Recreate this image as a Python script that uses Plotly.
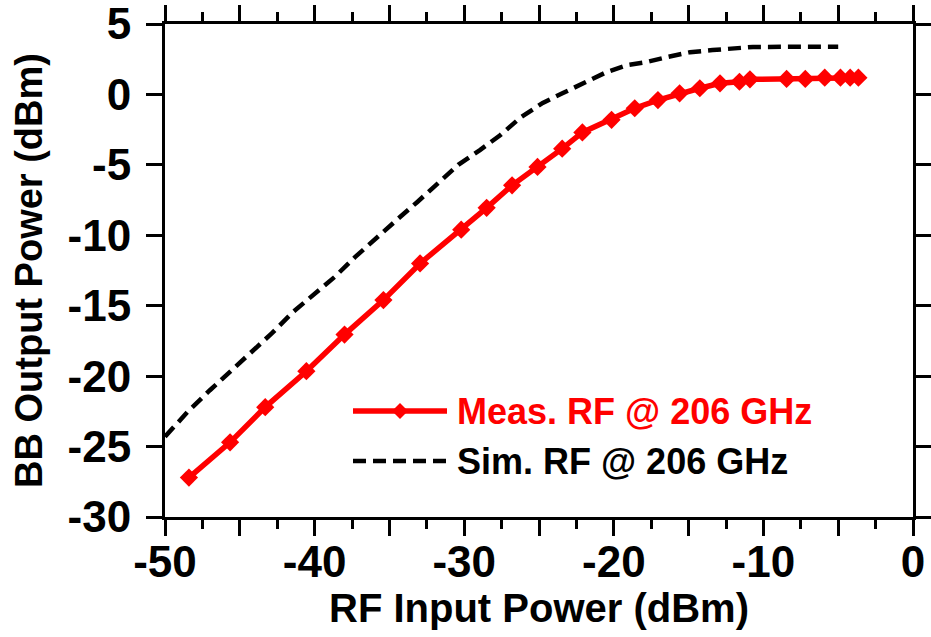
import plotly.graph_objects as go

# Measured: RF @ 206 GHz
meas_x = [-48.4, -45.65, -43.3, -40.55, -38.0, -35.4, -32.95, -30.2, -28.5, -26.8,
          -25.1, -23.45, -22.1, -20.15, -18.6, -17.05, -15.6, -14.25, -12.9, -11.6,
          -10.9, -8.45, -7.2, -5.9, -4.85, -4.2, -3.65]
meas_y = [-27.2, -24.7, -22.2, -19.65, -17.05, -14.6, -12.0, -9.6, -8.05, -6.45,
          -5.15, -3.85, -2.7, -1.8, -0.98, -0.4, 0.08, 0.44, 0.79, 0.9,
          1.07, 1.1, 1.1, 1.19, 1.19, 1.19, 1.19]

# Simulated: RF @ 206 GHz
sim_x = [-50, -48.5, -47, -45.5, -44.2, -42.85, -41.45, -40, -38.65, -37.3, -35.8,
         -34.5, -33.15, -31.75, -30.4, -28.95, -27.6, -26.25, -24.75, -23.4, -21.95,
         -20.45, -19.1, -17.8, -16.45, -14.9, -13.4, -12.0, -10.7, -8, -5]
sim_y = [-24.3, -22.55, -21.0, -19.55, -18.35, -16.95, -15.45, -14.15, -12.95, -11.55, -10.1,
         -8.9, -7.65, -6.3, -5.0, -3.95, -2.9, -1.65, -0.6, 0.1, 0.88,
         1.6, 2.08, 2.3, 2.65, 3.0, 3.15, 3.3, 3.37, 3.38, 3.38]

x_tickvals = [-50, -45, -40, -35, -30, -25, -20, -15, -10, -5, 0]
x_ticktext = ["-50", "", "-40", "", "-30", "", "-20", "", "-10", "", "0"]
y_tickvals = [5, 0, -5, -10, -15, -20, -25, -30]
y_ticktext = ["5", "0", "-5", "-10", "-15", "-20", "-25", "-30"]

legend_labels = ["Meas. RF @ 206 GHz", "Sim. RF @ 206 GHz"]
RED = "#FF0000"
FONT = "Liberation Sans, Arial, sans-serif"

fig = go.Figure()
fig.add_trace(go.Scatter(x=sim_x, y=sim_y, mode="lines", name=legend_labels[1],
                         line=dict(color="black", width=4.5, dash="13px,7px"),
                         showlegend=False))
fig.add_trace(go.Scatter(x=meas_x, y=meas_y, mode="lines+markers", name=legend_labels[0],
                         line=dict(color=RED, width=5.5),
                         marker=dict(symbol="diamond", size=14, color=RED),
                         showlegend=False))

axis_common = dict(showline=True, linecolor="black", linewidth=3, mirror="allticks",
                   ticks="outside", ticklen=16, tickwidth=3, tickcolor="black",
                   showgrid=False, zeroline=False, automargin=False,
                   ticklabeloverflow="allow",
                   tickfont=dict(family=FONT, size=44, color="black", weight="bold"))

fig.update_xaxes(range=[-50, 0], tickvals=x_tickvals, ticktext=x_ticktext,
                 ticklabelstandoff=-12,
                 minor=dict(dtick=2.5, ticklen=9, tickwidth=3, tickcolor="black", ticks="outside"),
                 title=dict(text="<b>RF Input Power (dBm)</b>",
                            font=dict(family=FONT, size=40, color="black"), standoff=2),
                 **axis_common)
fig.update_yaxes(range=[-30, 5], tickvals=y_tickvals, ticktext=y_ticktext,
                 ticklabelstandoff=6,
                 title=dict(text="<b>BB Output Power (dBm)</b>",
                            font=dict(family=FONT, size=38, color="black"), standoff=14),
                 **axis_common)

# Plot-area corners in reference pixels (page margin removed below)
L, R_, T, B = 165, 913, 24, 517
def px(x):
    return (x - L) / (R_ - L)
def py(y):
    return (B - y) / (B - T)

shapes = [
    dict(type="line", xref="paper", yref="paper", x0=px(353), x1=px(447),
         y0=py(411), y1=py(411), line=dict(color=RED, width=5.5)),
    dict(type="path", xref="paper", yref="paper",
         path=(f"M {px(392)},{py(411)} L {px(400)},{py(403)} "
               f"L {px(408)},{py(411)} L {px(400)},{py(419)} Z"),
         fillcolor=RED, line=dict(color=RED, width=0)),
    dict(type="line", xref="paper", yref="paper", x0=px(353), x1=px(447),
         y0=py(461), y1=py(461), line=dict(color="black", width=4.5, dash="13px,7px")),
]
annotations = [
    dict(xref="paper", yref="paper", x=px(455), y=py(411), xanchor="left", yanchor="middle",
         text="<b>" + legend_labels[0] + "</b>", showarrow=False,
         font=dict(family=FONT, size=36, color=RED)),
    dict(xref="paper", yref="paper", x=px(455), y=py(461), xanchor="left", yanchor="middle",
         text="<b>" + legend_labels[1] + "</b>", showarrow=False,
         font=dict(family=FONT, size=36, color="black")),
]

fig.update_layout(width=931, height=637, margin=dict(l=165, r=18, t=24, b=120),
                  plot_bgcolor="white", paper_bgcolor="white",
                  shapes=shapes, annotations=annotations, showlegend=False)

fig.write_html("out.html", config={"displayModeBar": False},
               post_script="document.body.style.margin='0';")
